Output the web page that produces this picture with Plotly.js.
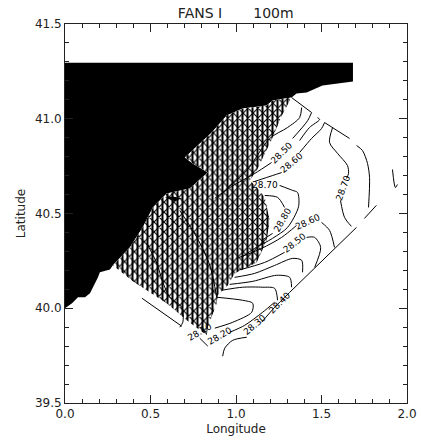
<!DOCTYPE html>
<html><head><meta charset="utf-8"><script src="https://cdn.plot.ly/plotly-3.0.1.min.js"></script>
<style>html,body{margin:0;padding:0;background:#fff}</style></head>
<body><div id="chart" style="width:421px;height:440px"></div>
<script>
const titleText = "FANS I\u00a0\u00a0\u00a0\u00a0\u00a0\u00a0\u00a0100m";
const landLon = [0,1.684,1.684,1.506,1.413,1.354,1.325,1.214,1.179,1.039,.946,.858,.701,.747,.835,.730,.595,.514,.455,.379,.280,.263,.204,.193,.146,.117,.076,.041,0];
const landLat = [41.296,41.296,41.196,41.175,41.138,41.133,41.112,41.096,41.07,41.054,41.017,40.927,40.795,40.764,40.717,40.632,40.606,40.532,40.427,40.321,40.227,40.205,40.19,40.163,40.079,40.058,40.058,40.026,40.0];
const hatchLon = [1.325,1.214,1.179,1.039,.946,.858,.701,.747,.835,.730,.595,.514,.455,.379,.280,.397,.595,.712,.829,.835,.887,.893,.952,.992,1.121,1.179,1.197,1.168,1.121,1.08,1.121,1.214,1.273,1.325];
const hatchLat = [41.112,41.096,41.07,41.054,41.017,40.927,40.795,40.764,40.717,40.632,40.606,40.532,40.427,40.321,40.227,40.142,40.026,39.937,39.858,39.9,40.026,40.068,40.121,40.184,40.242,40.358,40.464,40.585,40.638,40.674,40.727,40.901,41.027,41.112];
const lensLon = [.584,.63,.683,.642];
const lensLat = [40.585,40.59,40.58,40.564];
const contourLon = [
 [1.384,1.372,1.302,1.197,1.063,.946],
 [1.442,1.419,1.331],[1.208,1.109,.975,.876],
 [1.477,1.489,1.430,1.372],
 [1.518,1.500,1.442,1.372],[1.267,1.179,1.109],
 [1.565,1.547,1.594,1.652,1.658,1.646],[1.611,1.635,1.675],
 [1.705,1.740,1.769,1.781,1.775],[1.821,1.751],[1.915,1.932,1.944],
 [.887,1.039,1.098,1.092,.981,.876],
 [.963,1.051,1.156,1.226],
 [.922,.934,.981,1.063],[1.150,1.226,1.314],
 [.917,1.039,1.156,1.226,1.243],
 [.963,1.098,1.238,1.314,1.325],
 [.992,1.109,1.226,1.331,1.384,1.389],
 [1.010,1.168,1.284],[1.413,1.460,1.495,1.460],
 [1.004,1.150,1.267,1.354],[1.500,1.547,1.576],
 [1.033,1.109,1.214,1.302,1.366,1.360,1.331,1.255],
 [1.168,1.243,1.284],[1.214,1.150],
 [.479,.537,.572,.613,.683,.689,.671],
 [.671,.771,.847,.887]
];
const contourLat = [
 [41.059,41.006,40.954,40.896,40.727,40.632],
 [41.033,40.99,40.896],[40.769,40.711,40.643,40.58],
 [41.006,40.996,40.954,40.885],
 [40.98,40.948,40.896,40.822],[40.716,40.69,40.669],
 [40.954,40.875,40.817,40.753,40.711,40.685],[40.569,40.479,40.432],
 [40.859,40.832,40.764,40.69,40.532],[40.543,40.474],[40.732,40.637,40.653],
 [40.058,40.042,40.026,39.979,39.926,39.895],
 [39.873,39.91,39.979,40.032],
 [39.747,39.789,39.831,39.847],[39.926,40.005,40.084],
 [40.095,40.111,40.111,40.105,40.042],
 [40.126,40.142,40.174,40.163,40.111],
 [40.163,40.184,40.226,40.263,40.253,40.19],
 [40.2,40.242,40.295],[40.374,40.374,40.321,40.216],
 [40.263,40.316,40.374,40.437],[40.453,40.411,40.321],
 [40.269,40.316,40.369,40.427,40.537,40.611,40.622,40.648],
 [40.595,40.585,40.532],[40.395,40.358],
 [40.342,40.237,40.137,40.058,40.005,39.926,39.90],
 [40.516,40.374,40.226,40.058]
];
const edgeLon = [[1.325,1.442],[1.518,1.664],[1.705,1.314],[.450,.683],[.788,.835]];
const edgeLat = [[41.112,41.033],[40.98,40.896],[40.427,40.084],[40.053,39.905],[39.842,39.80]];
const labelText = ["28.70","28.50","28.60","28.70","28.80","28.60","28.50","28.40","28.30","28.20","28.10"];
const labelLon = [1.168,1.267,1.325,1.629,1.273,1.419,1.343,1.255,1.109,.905,.788];
const labelLat = [40.648,40.817,40.764,40.632,40.464,40.453,40.342,40.026,39.91,39.852,39.873];
const labelAngle = [0,-45,-40,-70,-60,-25,-38,-45,-40,-30,-30];

const ink = '#000';
const traces = [
 {x:landLon,y:landLat,mode:'lines',fill:'toself',fillcolor:ink,line:{width:0,color:ink},hoverinfo:'skip'},
 {x:hatchLon,y:hatchLat,mode:'lines',fill:'toself',fillcolor:'#fff',line:{width:0,color:'#fff'},hoverinfo:'skip'},
 {x:hatchLon,y:hatchLat,mode:'lines',fill:'toself',fillcolor:'rgba(0,0,0,0)',line:{width:0,color:'#fff'},hoverinfo:'skip',
  fillpattern:{shape:'|',size:5,solidity:0.4,fgcolor:ink,bgcolor:'rgba(0,0,0,0)'}},
 {x:hatchLon,y:hatchLat,mode:'lines',fill:'toself',fillcolor:'rgba(0,0,0,0)',line:{width:0,color:'#fff'},hoverinfo:'skip',
  fillpattern:{shape:'x',size:7,solidity:0.3,fgcolor:ink,bgcolor:'rgba(0,0,0,0)'}},
 {x:lensLon,y:lensLat,mode:'lines',fill:'toself',fillcolor:ink,line:{width:0,color:ink},hoverinfo:'skip'}
];
contourLon.forEach((lon,i)=>traces.push({x:lon,y:contourLat[i],mode:'lines',line:{color:ink,width:1,shape:'spline',smoothing:0.8},hoverinfo:'skip'}));
edgeLon.forEach((lon,i)=>traces.push({x:lon,y:edgeLat[i],mode:'lines',line:{color:ink,width:1},hoverinfo:'skip'}));

const font = {family:'"DejaVu Sans", sans-serif',size:12,color:'#222'};
const axis = {showgrid:false,zeroline:false,showline:true,linecolor:'#222',linewidth:1,mirror:'allticks',
  ticks:'inside',ticklen:8,tickwidth:1,tickcolor:'#222',tickformat:'.1f',tickmode:'linear',dtick:0.5,
  minor:{tickmode:'linear',dtick:0.1,ticks:'inside',ticklen:4,tickwidth:1,tickcolor:'#222'},tickfont:font};
const layout = {
 width:421,height:440,showlegend:false,paper_bgcolor:'#fff',plot_bgcolor:'#fff',
 margin:{l:65,r:13.5,t:23.5,b:37},
 title:{text:titleText,font:Object.assign({},font,{size:14}),x:0.56,xanchor:'center',y:0.97,yanchor:'middle'},
 xaxis:Object.assign({},axis,{range:[0,2],tick0:0,title:{text:'Longitude',font:font,standoff:4}}),
 yaxis:Object.assign({},axis,{range:[39.5,41.5],tick0:39.5,title:{text:'Latitude',font:font,standoff:6}}),
 annotations:labelText.map((t,i)=>({x:labelLon[i],y:labelLat[i],xref:'x',yref:'y',text:t,textangle:labelAngle[i],showarrow:false,
   font:{family:'"DejaVu Sans", sans-serif',size:9,color:ink}}))
};
Plotly.newPlot('chart',traces,layout,{displayModeBar:false,staticPlot:true});
</script></body></html>
